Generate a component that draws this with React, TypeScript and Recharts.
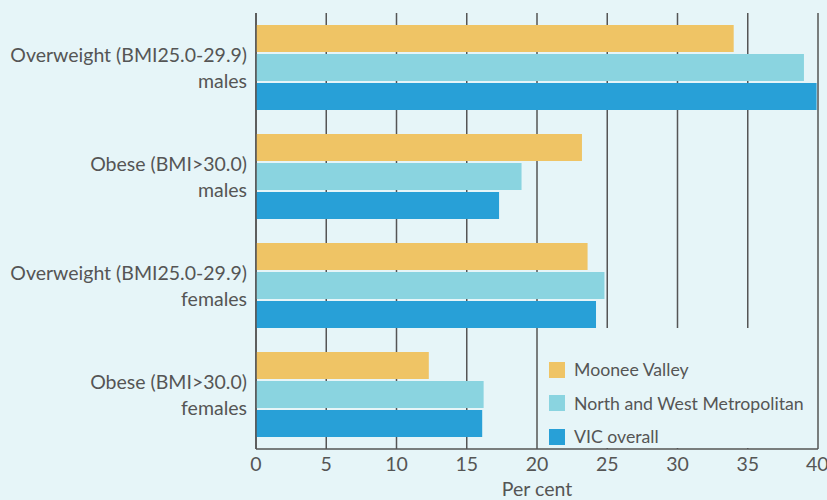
import React from 'react';
import { BarChart, Bar, XAxis, YAxis, CartesianGrid, Legend, Label } from 'recharts';

const categories = [
  ['Overweight (BMI25.0-29.9)', 'males'],
  ['Obese (BMI>30.0)', 'males'],
  ['Overweight (BMI25.0-29.9)', 'females'],
  ['Obese (BMI>30.0)', 'females'],
];
const mooneeValley = [34.0, 23.2, 23.6, 12.3];
const northWestMetro = [39.0, 18.9, 24.8, 16.2];
const vicOverall = [39.9, 17.3, 24.2, 16.1];
const xTicks = [0, 5, 10, 15, 20, 25, 30, 35, 40];

const seriesList = [
  { key: 'mv', name: 'Moonee Valley', color: '#EFC465' },
  { key: 'nwm', name: 'North and West Metropolitan', color: '#8AD4E0' },
  { key: 'vic', name: 'VIC overall', color: '#28A0D7' },
];

const BG = '#E6F5F8';
const TEXT = '#555555';
const FONT = 'Lato, "Open Sans", sans-serif';

const data = categories.map((lines, i) => ({
  name: i,
  mv: mooneeValley[i],
  nwm: northWestMetro[i],
  vic: vicOverall[i],
}));

// two-line category label, right aligned against the axis
const CategoryTick = (props: any) => {
  const { x, y, payload } = props;
  const lines = categories[payload.value];
  return (
    <g>
      {lines.map((line, i) => (
        <text
          key={i}
          x={x - 1}
          y={y + (i === 0 ? -13 : 13)}
          textAnchor="end"
          dominantBaseline="central"
          fill={TEXT}
          fontSize={19.5}
          fontFamily={FONT}
        >
          {line}
        </text>
      ))}
    </g>
  );
};

const LegendBox = () => (
  <div style={{ paddingTop: 25, paddingLeft: 11 }}>
    {seriesList.map((s) => (
      <div key={s.key} style={{ display: 'flex', alignItems: 'center', height: 33.5 }}>
        <div style={{ width: 16, height: 16, background: s.color, marginRight: 9 }} />
        <span style={{ fontFamily: FONT, fontSize: 17.7, color: TEXT }}>{s.name}</span>
      </div>
    ))}
  </div>
);

export default function App() {
  return (
    <div style={{ position: 'absolute', left: 0, top: 0, width: 827, height: 500, background: BG }}>
      <BarChart
        width={827}
        height={500}
        data={data}
        layout="vertical"
        margin={{ top: 13, right: 9, left: 0, bottom: 6 }}
        barCategoryGap={12}
        barGap={2}
      >
        <CartesianGrid horizontal={false} stroke="#555" strokeWidth={1.5} />
        <XAxis
          type="number"
          domain={[0, 40]}
          ticks={xTicks}
          tickLine={false}
          axisLine={{ stroke: '#555', strokeWidth: 1.5 }}
          tick={{ fill: TEXT, fontSize: 19.5, fontFamily: FONT }}
          height={45}
        >
          <Label value="Per cent" position="insideBottom" offset={-2} fill={TEXT} fontSize={19.5} fontFamily={FONT} />
        </XAxis>
        <YAxis
          type="category"
          dataKey="name"
          width={256}
          tickLine={false}
          axisLine={{ stroke: '#555', strokeWidth: 1.5 }}
          tick={<CategoryTick />}
        />
        <Legend
          layout="vertical"
          align="center"
          verticalAlign="middle"
          content={<LegendBox />}
          wrapperStyle={{
            position: 'absolute',
            left: 538,
            top: 328,
            width: 279,
            height: 120,
            background: BG,
          }}
        />
        {seriesList.map((s) => (
          <Bar key={s.key} dataKey={s.key} name={s.name} fill={s.color} isAnimationActive={false} />
        ))}
      </BarChart>
    </div>
  );
}
